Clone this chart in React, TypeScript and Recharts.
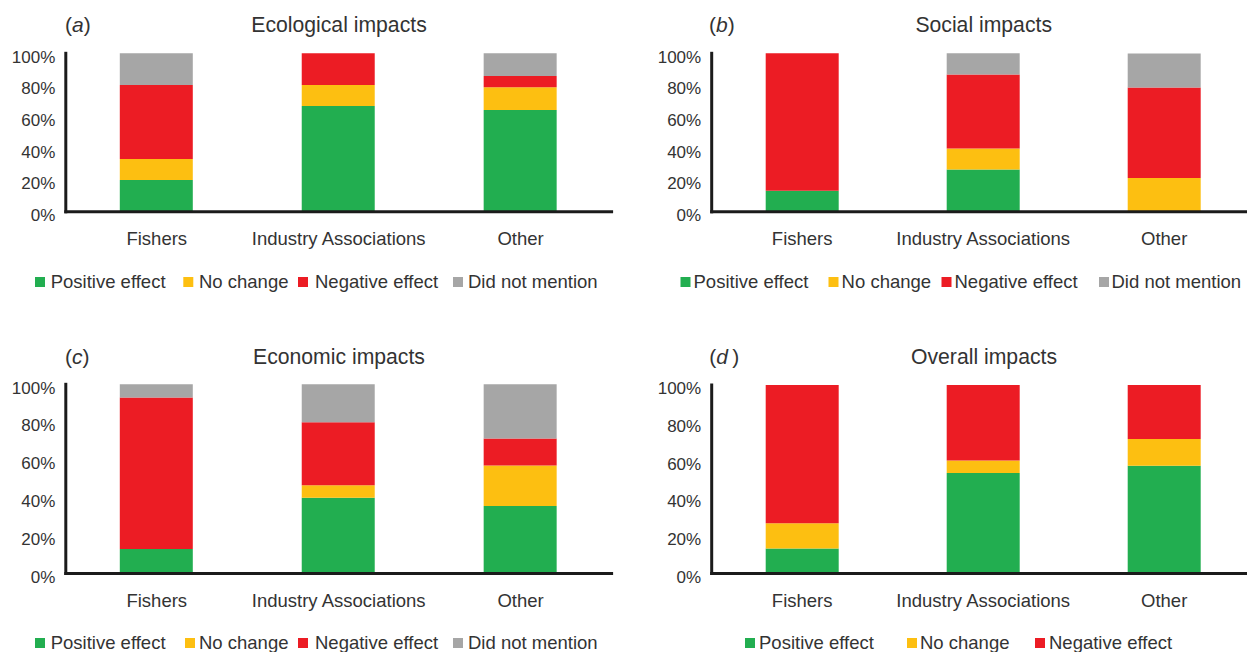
import React from 'react';
import { BarChart, Bar, XAxis, YAxis, Legend } from 'recharts';

const categories = ['Fishers', 'Industry Associations', 'Other'];
const seriesNames = ['Positive effect', 'No change', 'Negative effect', 'Did not mention'];
const seriesKeys = ['positive', 'noChange', 'negative', 'notMentioned'];
const seriesColors = ['#22AE50', '#FDBF11', '#EC1C24', '#A6A6A6'];
const yTicks = [0, 20, 40, 60, 80, 100];

const ecologicalPositive = [20, 66.7, 64.3];
const ecologicalNoChange = [13.3, 13.3, 14.3];
const ecologicalNegative = [46.7, 20, 7.1];
const ecologicalNotMentioned = [20, 0, 14.3];

const socialPositive = [13.3, 26.7, 0];
const socialNoChange = [0, 13.3, 21.4];
const socialNegative = [86.7, 46.7, 57.1];
const socialNotMentioned = [0, 13.3, 21.4];

const economicPositive = [13, 40, 35.7];
const economicNoChange = [0, 6.7, 21.4];
const economicNegative = [80, 33.3, 14.3];
const economicNotMentioned = [7, 20, 28.6];

const overallPositive = [13.3, 53.3, 57.1];
const overallNoChange = [13.3, 6.7, 14.3];
const overallNegative = [73.4, 40, 28.6];

const FONT = '"Liberation Sans", Arial, sans-serif';
const TEXT = '#333333';
const AXIS = '#1b1b1b';

function buildRows(series: number[][]) {
  return categories.map((c, i) => {
    const row: any = { category: c };
    series.forEach((s, k) => {
      row[seriesKeys[k]] = s[i];
    });
    return row;
  });
}

const panels = [
  {
    letter: 'a', letterSuffix: ')', title: 'Ecological impacts',
    series: [ecologicalPositive, ecologicalNoChange, ecologicalNegative, ecologicalNotMentioned],
    left: 0, top: 0, width: 620, height: 326,
    plot: { left: 65.8, right: 611.6, top: 53.3, bottom: 211.8 },
    titleX: 339, titleY: 31.7, letterX: 65,
    markerTop: 276.7,
    markers: [35, 183.3, 298, 453], texts: [50.7, 199, 315, 468],
  },
  {
    letter: 'b', letterSuffix: ')', title: 'Social impacts',
    series: [socialPositive, socialNoChange, socialNegative, socialNotMentioned],
    left: 620, top: 0, width: 640, height: 326,
    plot: { left: 91.7, right: 634.7, top: 53.3, bottom: 211.8 },
    titleX: 363.7, titleY: 31.7, letterX: 89,
    markerTop: 276.5,
    markers: [60.5, 208.5, 321.5, 479], texts: [73.5, 221.6, 334.5, 491.5],
  },
  {
    letter: 'c', letterSuffix: ')', title: 'Economic impacts',
    series: [economicPositive, economicNoChange, economicNegative, economicNotMentioned],
    left: 0, top: 326, width: 620, height: 326,
    plot: { left: 65.8, right: 611.6, top: 58.3, bottom: 247.5 },
    titleX: 339, titleY: 38.3, letterX: 65,
    markerTop: 312.3,
    markers: [35, 185, 298, 453], texts: [50.7, 199, 315, 468],
  },
  {
    letter: 'd', letterSuffix: '\u2009)', title: 'Overall impacts',
    series: [overallPositive, overallNoChange, overallNegative],
    left: 620, top: 326, width: 640, height: 326,
    plot: { left: 91.7, right: 634.7, top: 59, bottom: 247.5 },
    titleX: 364, titleY: 38.3, letterX: 89.3,
    markerTop: 312.3,
    markers: [125, 287, 415], texts: [139, 300, 429],
  },
];

const XTick = (props: any) => {
  const { x, y, payload } = props;
  return (
    <text x={x} y={y + 33.3} textAnchor="middle" fontSize={18.5} fill={TEXT} fontFamily={FONT}>
      {payload.value}
    </text>
  );
};

const YTick = (props: any) => {
  const { x, y, payload } = props;
  return (
    <text x={x - 10.5} y={y + 9.2} textAnchor="end" fontSize={17} fill={TEXT} fontFamily={FONT}>
      {`${payload.value}%`}
    </text>
  );
};

function Panel({ cfg }: { cfg: any }) {
  const { width, height, plot } = cfg;
  const xAxisHeight = 30;
  const margin = {
    top: plot.top,
    right: width - plot.right,
    bottom: height - plot.bottom - xAxisHeight,
    left: 0,
  };
  const data = buildRows(cfg.series);
  const legendTop = cfg.markerTop - 12;

  const renderLegend = (props: any) => {
    const payload = props.payload || [];
    return (
      <svg width={width} height={30} style={{ display: 'block', overflow: 'visible' }}>
        {payload.map((entry: any) => {
          const idx = seriesNames.indexOf(entry.value);
          if (idx < 0) return null;
          return (
            <g key={entry.value}>
              <rect x={cfg.markers[idx]} y={12} width={10} height={10} fill={seriesColors[idx]} />
              <text x={cfg.texts[idx]} y={23.3} fontSize={18.5} fill={TEXT} fontFamily={FONT}>
                {entry.value}
              </text>
            </g>
          );
        })}
      </svg>
    );
  };

  return (
    <div style={{ position: 'absolute', left: cfg.left, top: cfg.top, width, height }}>
      <BarChart width={width} height={height} data={data} margin={margin} barSize={73}>
        <text x={cfg.letterX} y={cfg.titleY} fontSize={21} fill={TEXT} fontFamily={FONT}>
          (<tspan fontStyle="italic">{cfg.letter}</tspan>{cfg.letterSuffix}
        </text>
        <text x={cfg.titleX} y={cfg.titleY} fontSize={21.2} fill={TEXT} fontFamily={FONT} textAnchor="middle">
          {cfg.title}
        </text>
        {cfg.series.map((_: any, k: number) => (
          <Bar
            key={seriesKeys[k]}
            dataKey={seriesKeys[k]}
            name={seriesNames[k]}
            stackId="s"
            fill={seriesColors[k]}
            isAnimationActive={false}
          />
        ))}
        <YAxis
          type="number"
          domain={[0, 100]}
          ticks={yTicks}
          width={plot.left}
          tickLine={false}
          tickSize={0}
          tickMargin={0}
          tick={<YTick />}
          axisLine={{ stroke: AXIS, strokeWidth: 3, strokeLinecap: 'square' }}
          interval={0}
        />
        <XAxis
          dataKey="category"
          height={xAxisHeight}
          tickLine={false}
          tickSize={0}
          tickMargin={0}
          tick={<XTick />}
          axisLine={{ stroke: AXIS, strokeWidth: 3, strokeLinecap: 'square' }}
          interval={0}
        />
        <Legend
          layout="horizontal"
          verticalAlign="middle"
          align="center"
          wrapperStyle={{ top: legendTop, left: 0, width, height: 30, margin: 0, padding: 0 }}
          content={renderLegend}
        />
      </BarChart>
    </div>
  );
}

export default function App() {
  return (
    <div
      style={{
        position: 'absolute',
        left: 0,
        top: 0,
        width: 1247,
        height: 652,
        overflow: 'hidden',
        background: '#ffffff',
      }}
    >
      {panels.map((p) => (
        <Panel key={p.letter} cfg={p} />
      ))}
    </div>
  );
}
